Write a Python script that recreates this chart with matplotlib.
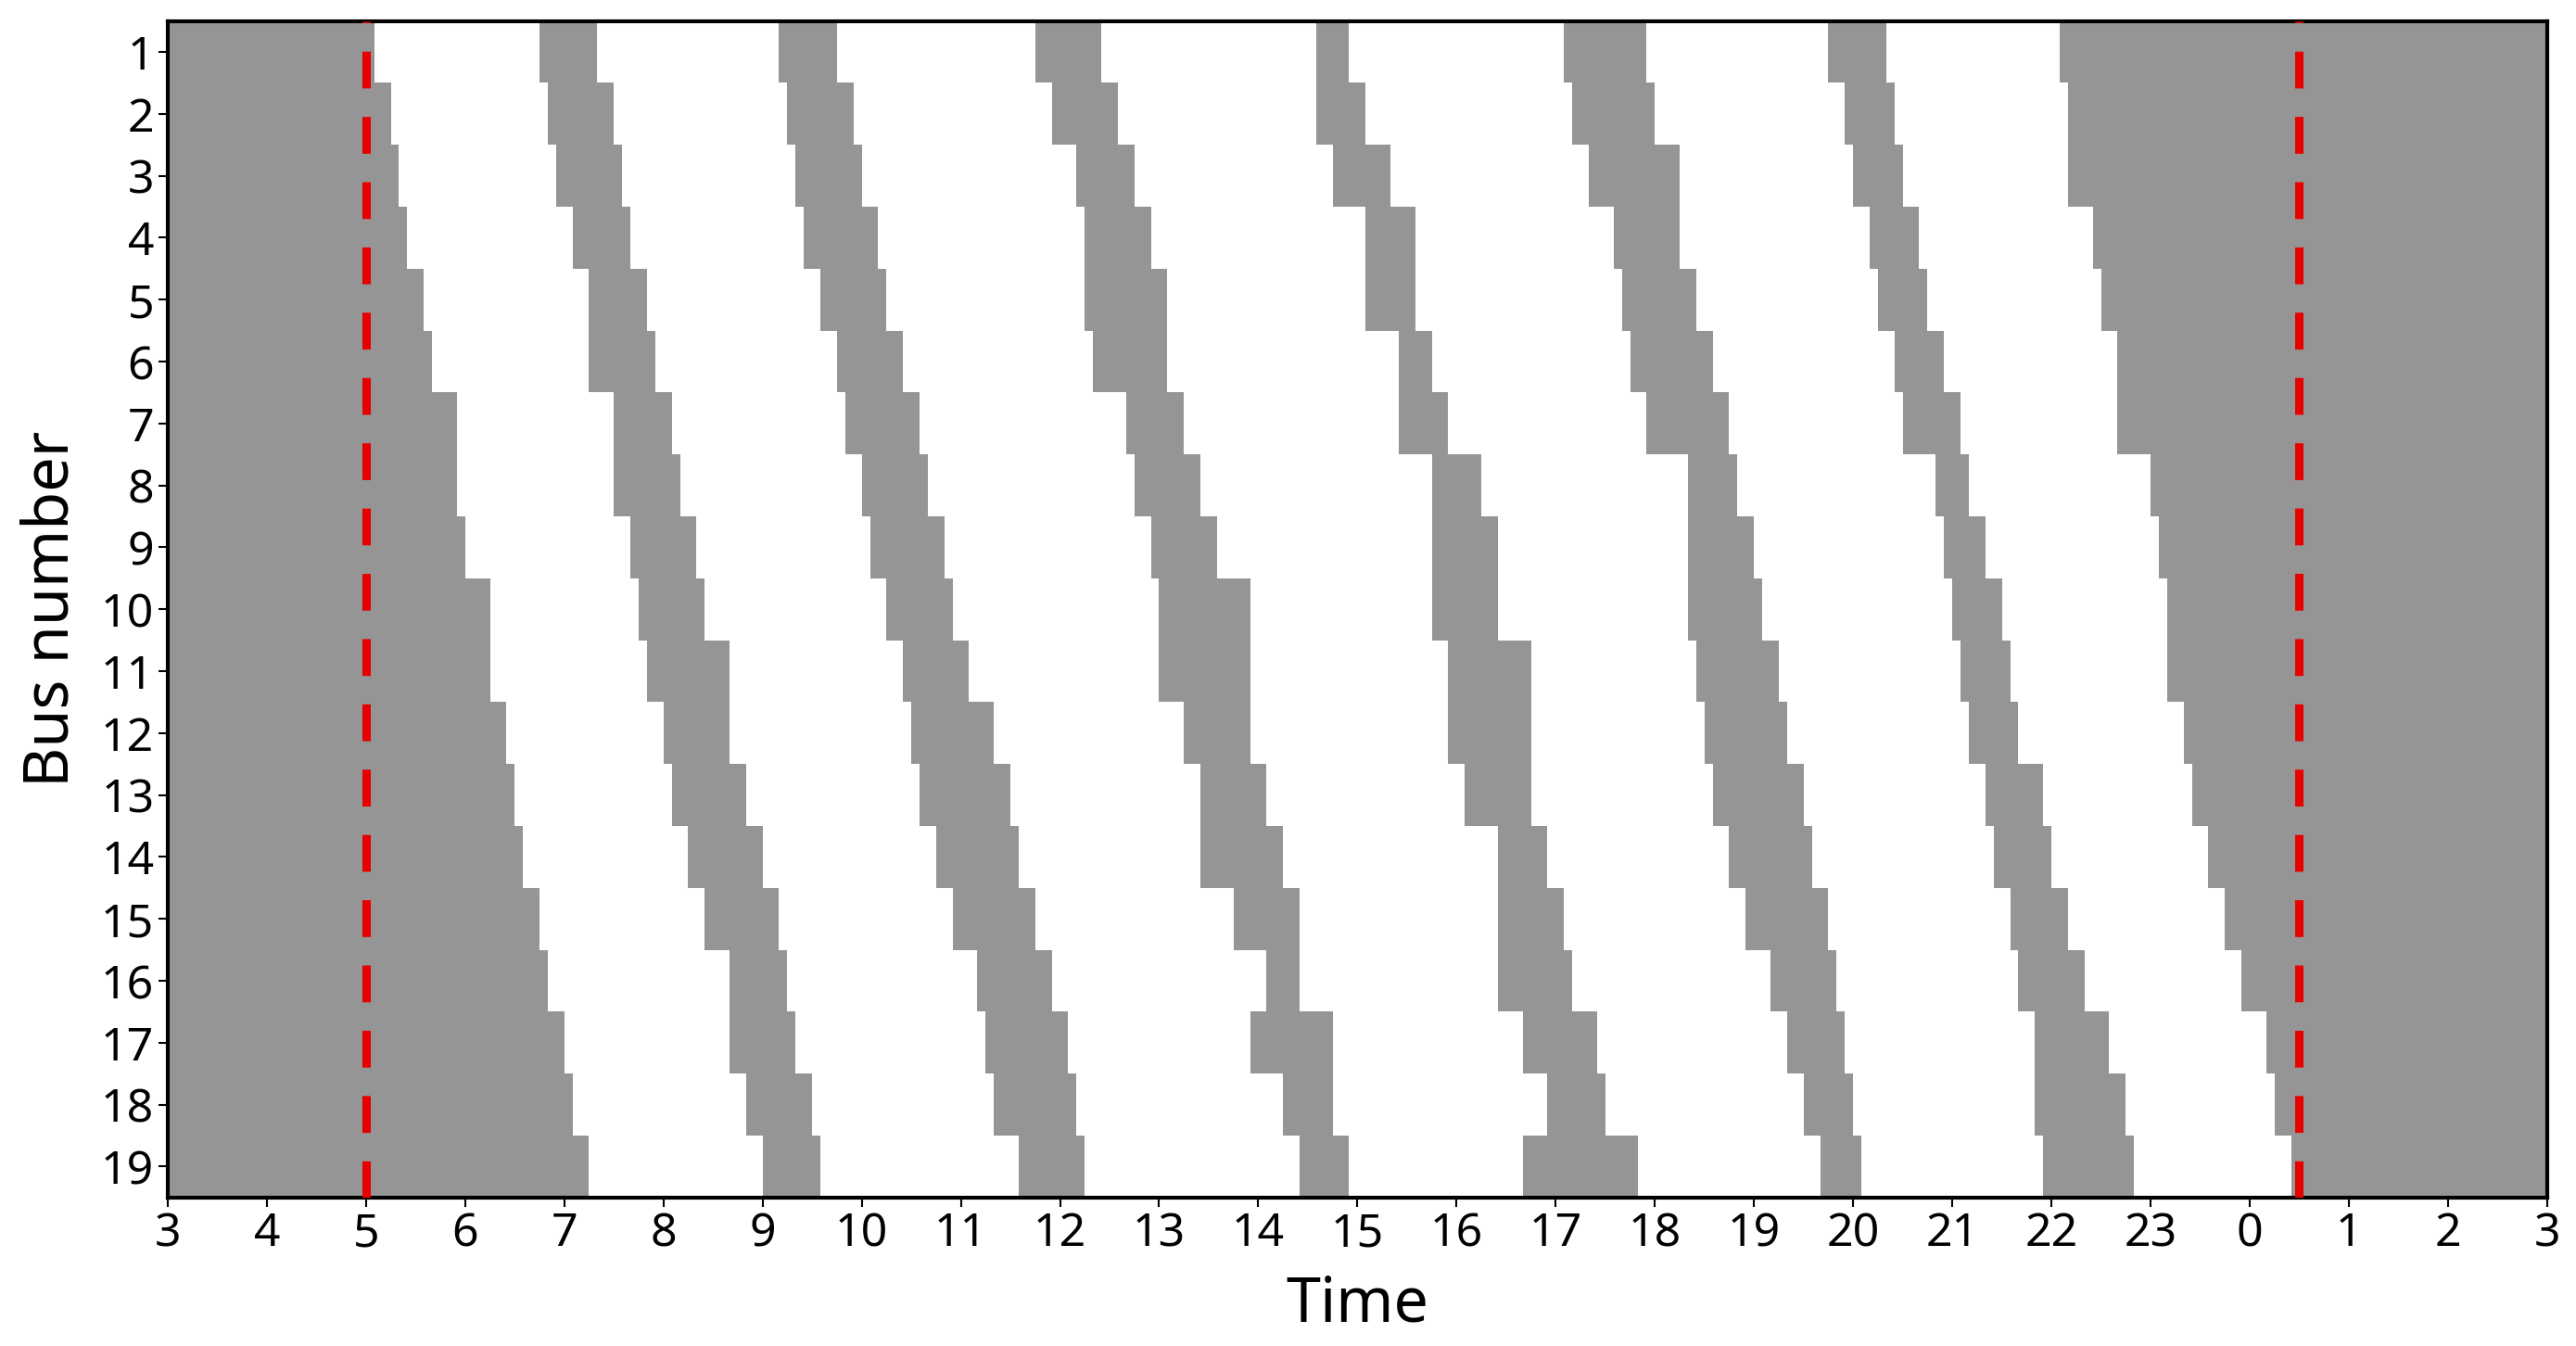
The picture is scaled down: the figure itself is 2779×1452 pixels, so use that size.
import matplotlib
matplotlib.use("Agg")
import matplotlib.pyplot as plt

plt.rcParams['font.family'] = ['Noto Sans', 'DejaVu Sans']

# bus rows, top to bottom
buses = list(range(1, 20))

# grey blocks per bus (times as H:MM, after midnight written as 24:xx)
first_end = ["5:05", "5:15", "5:20", "5:25", "5:35", "5:40", "5:55", "5:55", "6:00", "6:15",
             "6:15", "6:25", "6:30", "6:35", "6:45", "6:50", "7:00", "7:05", "7:15"]
break_1 = [("6:45", "7:20"), ("6:50", "7:30"), ("6:55", "7:35"), ("7:05", "7:40"), ("7:15", "7:50"),
           ("7:15", "7:55"), ("7:30", "8:05"), ("7:30", "8:10"), ("7:40", "8:20"), ("7:45", "8:25"),
           ("7:50", "8:40"), ("8:00", "8:40"), ("8:05", "8:50"), ("8:15", "9:00"), ("8:25", "9:10"),
           ("8:40", "9:15"), ("8:40", "9:20"), ("8:50", "9:30"), ("9:00", "9:35")]
break_2 = [("9:10", "9:45"), ("9:15", "9:55"), ("9:20", "10:00"), ("9:25", "10:10"), ("9:35", "10:15"),
           ("9:45", "10:25"), ("9:50", "10:35"), ("10:00", "10:40"), ("10:05", "10:50"), ("10:15", "10:55"),
           ("10:25", "11:05"), ("10:30", "11:20"), ("10:35", "11:30"), ("10:45", "11:35"), ("10:55", "11:45"),
           ("11:10", "11:55"), ("11:15", "12:05"), ("11:20", "12:10"), ("11:35", "12:15")]
break_3 = [("11:45", "12:25"), ("11:55", "12:35"), ("12:10", "12:45"), ("12:15", "12:55"), ("12:15", "13:05"),
           ("12:20", "13:05"), ("12:40", "13:15"), ("12:45", "13:25"), ("12:55", "13:35"), ("13:00", "13:55"),
           ("13:00", "13:55"), ("13:15", "13:55"), ("13:25", "14:05"), ("13:25", "14:15"), ("13:45", "14:25"),
           ("14:05", "14:25"), ("13:55", "14:45"), ("14:15", "14:45"), ("14:25", "14:55")]
break_4 = [("14:35", "14:55"), ("14:35", "15:05"), ("14:45", "15:20"), ("15:05", "15:35"), ("15:05", "15:35"),
           ("15:25", "15:45"), ("15:25", "15:55"), ("15:45", "16:15"), ("15:45", "16:25"), ("15:45", "16:25"),
           ("15:55", "16:45"), ("15:55", "16:45"), ("16:05", "16:45"), ("16:25", "16:55"), ("16:25", "17:05"),
           ("16:25", "17:10"), ("16:40", "17:25"), ("16:55", "17:30"), ("16:40", "17:50")]
break_5 = [("17:05", "17:55"), ("17:10", "18:00"), ("17:20", "18:15"), ("17:35", "18:15"), ("17:40", "18:25"),
           ("17:45", "18:35"), ("17:55", "18:45"), ("18:20", "18:50"), ("18:20", "19:00"), ("18:20", "19:05"),
           ("18:25", "19:15"), ("18:30", "19:20"), ("18:35", "19:30"), ("18:45", "19:35"), ("18:55", "19:45"),
           ("19:10", "19:50"), ("19:20", "19:55"), ("19:30", "20:00"), ("19:40", "20:05")]
break_6 = [("19:45", "20:20"), ("19:55", "20:25"), ("20:00", "20:30"), ("20:10", "20:40"), ("20:15", "20:45"),
           ("20:25", "20:55"), ("20:30", "21:05"), ("20:50", "21:10"), ("20:55", "21:20"), ("21:00", "21:30"),
           ("21:05", "21:35"), ("21:10", "21:40"), ("21:20", "21:55"), ("21:25", "22:00"), ("21:35", "22:10"),
           ("21:40", "22:20"), ("21:50", "22:35"), ("21:50", "22:45"), ("21:55", "22:50")]
last_start = ["22:05", "22:10", "22:10", "22:25", "22:30", "22:40", "22:40", "23:00", "23:05", "23:10",
              "23:10", "23:20", "23:25", "23:35", "23:45", "23:55", "24:10", "24:15", "24:25"]

day_start = "3:00"
day_end = "27:00"
red_lines = ["5:00", "24:30"]
tick_hours = list(range(3, 28))
tick_labels = [str(h % 24) for h in tick_hours]


def hrs(t):
    h, m = t.split(":")
    return int(h) + int(m) / 60


fig = plt.figure(figsize=(27.79, 14.52), dpi=100)
ax = fig.add_axes([0.0651, 0.1103, 0.9237, 0.8741])

grey = "#959595"
for i, bus in enumerate(buses):
    spans = [(day_start, first_end[i])]
    for band in (break_1, break_2, break_3, break_4, break_5, break_6):
        spans.append(band[i])
    spans.append((last_start[i], day_end))
    bars = [(hrs(a), hrs(b) - hrs(a)) for a, b in spans]
    ax.broken_barh(bars, (bus - 0.5, 1), facecolors=grey, edgecolor="none")

for t in red_lines:
    ax.axvline(hrs(t), color="#e60000", linewidth=6.5, linestyle=(0, (4.4, 3.4)), zorder=3)

ax.set_xlim(hrs(day_start), hrs(day_end))
ax.set_ylim(19.5, 0.5)
ax.set_xticks(tick_hours)
ax.set_xticklabels(tick_labels)
ax.set_yticks(buses)
ax.tick_params(labelsize=36, length=7, width=1.5, direction="out")
for s in ax.spines.values():
    s.set_linewidth(3)
ax.set_xlabel("Time", fontsize=48, labelpad=12)
ax.set_ylabel("Bus number", fontsize=48, labelpad=14)

fig.savefig("out.png", dpi=100)
